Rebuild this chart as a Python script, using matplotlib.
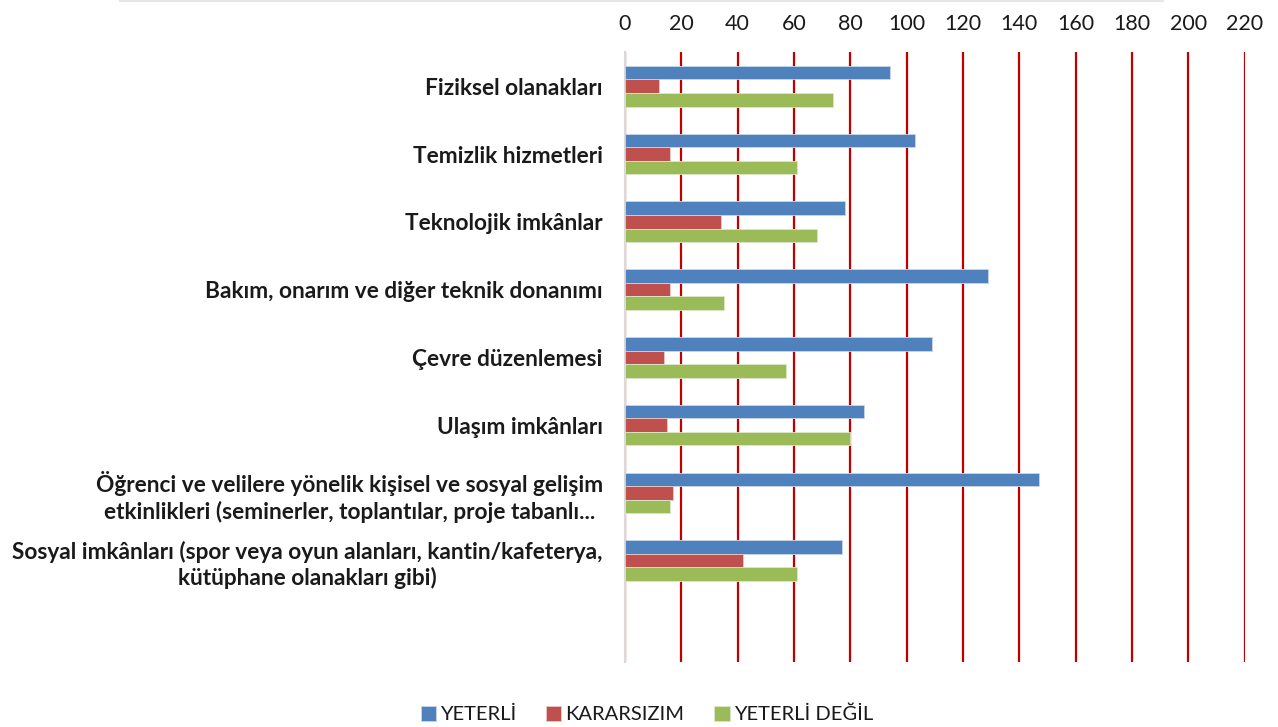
import matplotlib.pyplot as plt
import numpy as np
from matplotlib.lines import Line2D

kategoriler = ['Fiziksel olanakları',
               'Temizlik hizmetleri',
               'Teknolojik imkânlar',
               'Bakım, onarım ve diğer teknik donanımı',
               'Çevre düzenlemesi',
               'Ulaşım imkânları',
               'Öğrenci ve velilere yönelik kişisel ve sosyal gelişim\netkinlikleri (seminerler, toplantılar, proje tabanlı...',
               'Sosyal imkânları (spor veya oyun alanları, kantin/kafeterya,\nkütüphane olanakları gibi)']
yeterli = [94, 103, 78, 129, 109, 85, 147, 77]
kararsizim = [12, 16, 34, 16, 14, 15, 17, 42]
yeterli_degil = [74, 61, 68, 35, 57, 80, 16, 61]
x_ticks = list(range(0, 221, 20))

plt.rcParams['font.family'] = ['Lato', 'DejaVu Sans']

fig = plt.figure(figsize=(12.78, 7.27), dpi=100)
ax = fig.add_axes([0.489, 0.089, 0.485, 0.839])

y = np.arange(len(kategoriler))
h = 0.2
ax.barh(y - h, yeterli, height=h, color='#4F81BD', edgecolor='#C9D7EA', linewidth=0.6, label='YETERLİ', zorder=3)
ax.barh(y, kararsizim, height=h, color='#C0504D', edgecolor='#EBC8C7', linewidth=0.6, label='KARARSIZIM', zorder=3)
ax.barh(y + h, yeterli_degil, height=h, color='#9BBB59', edgecolor='#DCE8C8', linewidth=0.6, label='YETERLİ DEĞİL', zorder=3)

ax.set_xlim(0, 220)
ax.set_ylim(len(kategoriler) + 0.5, -0.5)
ax.set_xticks(x_ticks)
ax.xaxis.tick_top()
ax.tick_params(axis='x', length=0, pad=13, labelsize=15.5, labelcolor='#1a1a1a')
ax.tick_params(axis='y', length=0, pad=16)
ax.set_yticks(y)
ax.set_yticklabels(kategoriler, fontsize=16.3, fontweight='bold', multialignment='center',
                   linespacing=1.25, color='#1a1a1a')

ax.grid(axis='x', color='#C00000', linewidth=1.6, zorder=0)
ax.set_axisbelow(True)
for s in ['top', 'right', 'bottom']:
    ax.spines[s].set_visible(False)
ax.spines['left'].set_color('#D9D9D9')
ax.spines['left'].set_linewidth(1.5)
ax.spines['left'].set_zorder(2)

fig.add_artist(Line2D([0.094, 0.91], [0.998, 0.998], color='#E6E6E6', linewidth=1.5))

fig.legend(loc='lower center', bbox_to_anchor=(0.506, -0.02), ncol=3, frameon=False,
           fontsize=14.5, handlelength=0.75, handleheight=0.75, handletextpad=0.2, columnspacing=1.5,
           labelcolor='#1a1a1a')

plt.savefig('out.png', dpi=100)
